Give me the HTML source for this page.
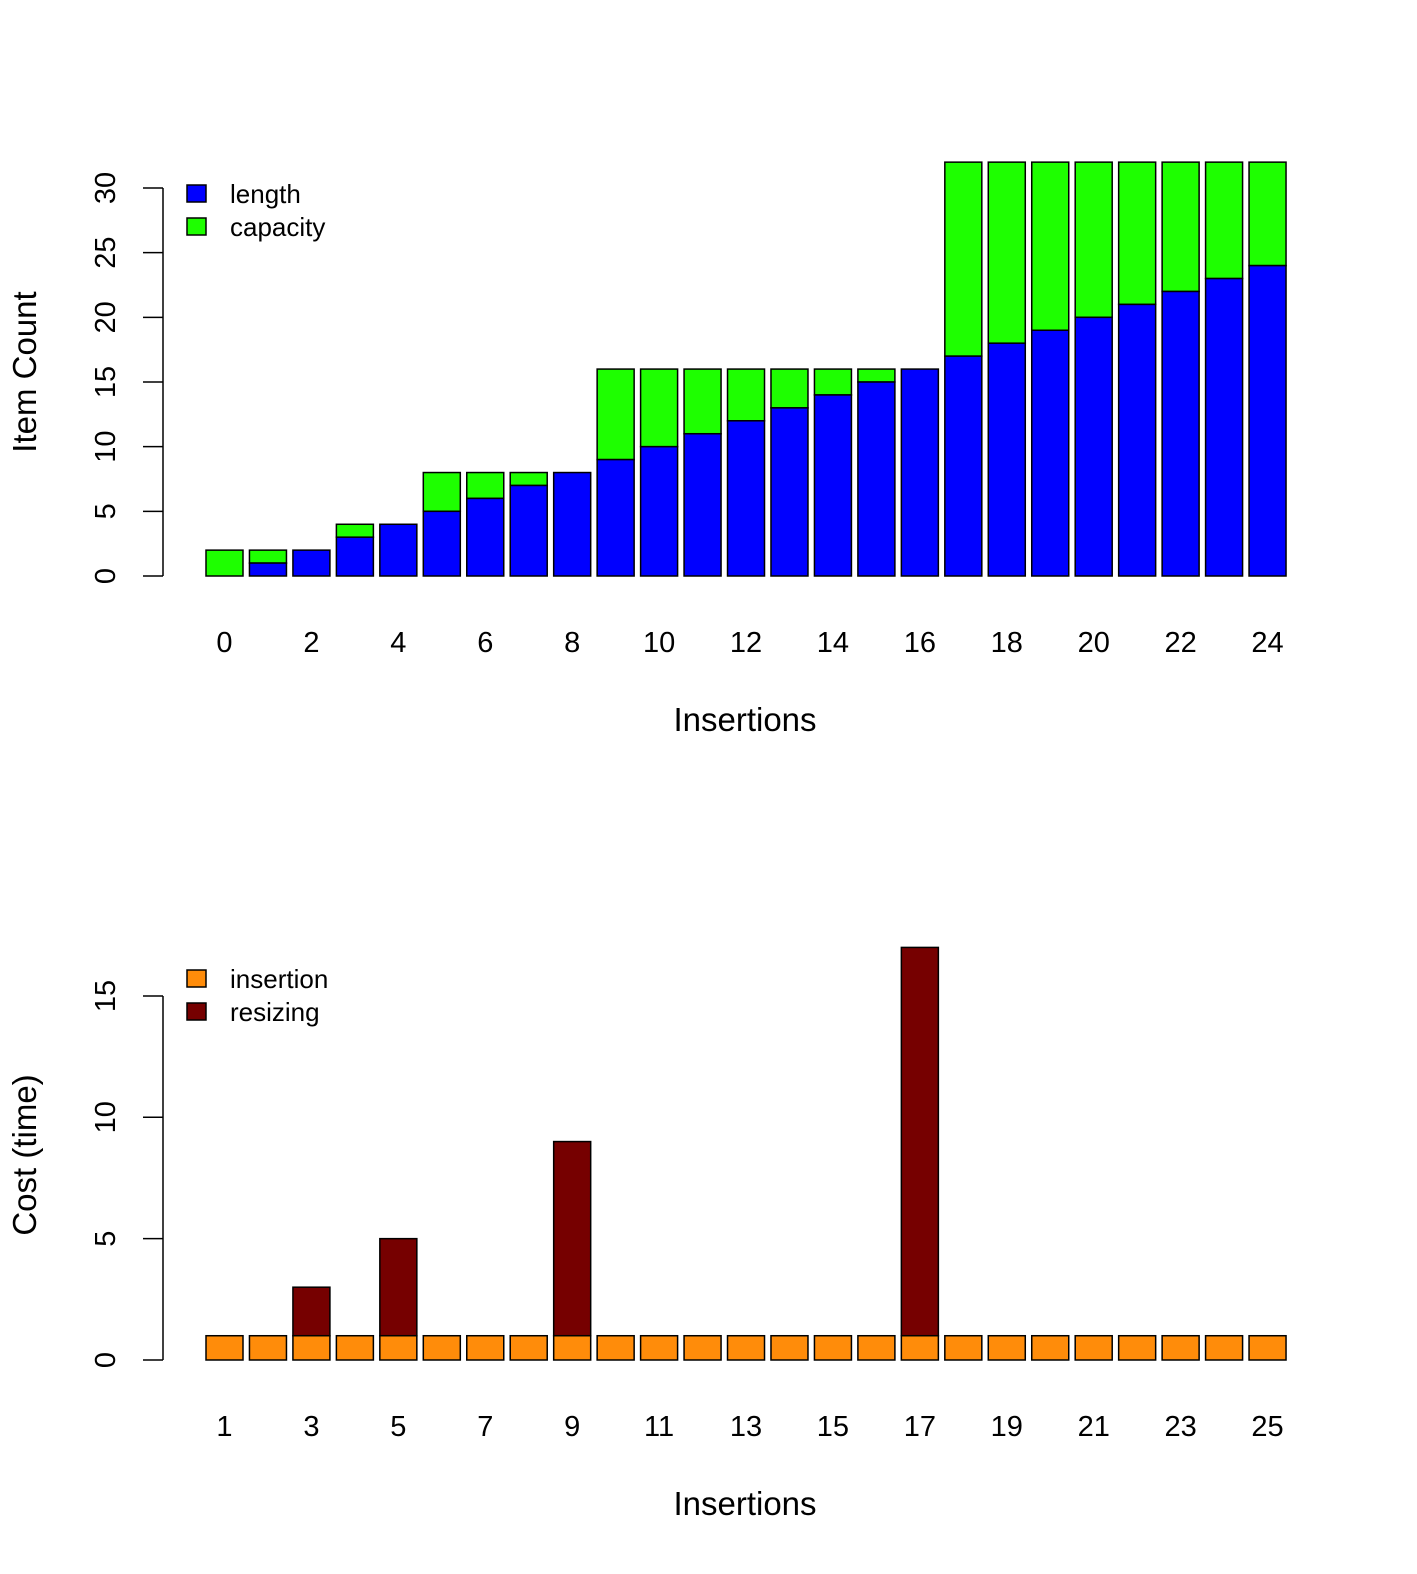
<!DOCTYPE html>
<html><head><meta charset="utf-8"><style>
html,body{margin:0;padding:0;background:#fff;}
svg{display:block;font-family:"Liberation Sans",Arial,sans-serif;}
</style></head><body>
<svg id="chart" width="1417" height="1574" xmlns="http://www.w3.org/2000/svg"></svg>
<script>
// Top chart data
const topCats = [0,1,2,3,4,5,6,7,8,9,10,11,12,13,14,15,16,17,18,19,20,21,22,23,24];
const topLength = [0,1,2,3,4,5,6,7,8,9,10,11,12,13,14,15,16,17,18,19,20,21,22,23,24];
const topCapacity = [2,2,2,4,4,8,8,8,8,16,16,16,16,16,16,16,16,32,32,32,32,32,32,32,32];
const topYTicks = [0,5,10,15,20,25,30];
// Bottom chart data
const botCats = [1,2,3,4,5,6,7,8,9,10,11,12,13,14,15,16,17,18,19,20,21,22,23,24,25];
const botInsertion = [1,1,1,1,1,1,1,1,1,1,1,1,1,1,1,1,1,1,1,1,1,1,1,1,1];
const botResizing = [0,0,2,0,4,0,0,0,8,0,0,0,0,0,0,0,16,0,0,0,0,0,0,0,0];
const botYTicks = [0,5,10,15];

const svg = document.getElementById('chart');
const NS = 'http://www.w3.org/2000/svg';
function mk(tag, attrs, parent){
  const e = document.createElementNS(NS, tag);
  for (const k in attrs) e.setAttribute(k, attrs[k]);
  (parent||svg).appendChild(e);
  return e;
}
function xScale(i){ return 206 + i*43.46; }
const BW = 37;

function drawPanel(cfg){
  const g = mk('g', {});
  
  
  const y = v => cfg.y0 - v*cfg.unit;
  cfg.cats.forEach((c,i)=>{
    const a = cfg.lower[i], b = cfg.upper[i];
    const x = xScale(i);
    if (b > 0) {
      const r2 = mk('rect', {x:x, y:y(a+b), width:BW, height:b*cfg.unit, fill:cfg.c2, stroke:'#000', 'stroke-width':1.5}, g);
      
      
    }
    if (a > 0) {
      const r1 = mk('rect', {x:x, y:y(a), width:BW, height:a*cfg.unit, fill:cfg.c1, stroke:'#000', 'stroke-width':1.5}, g);
      
      
    }
    if (i % 2 === 0) {
      const t = mk('text', {x:x+BW/2, y:cfg.y0+76, 'font-size':29, 'text-anchor':'middle'}, g);
      t.textContent = c;
      
      
    }
  });
  const ticks = cfg.ticks;
  const ax = mk('line', {x1:163, x2:163, y1:y(ticks[0]), y2:y(ticks[ticks.length-1]), stroke:'#000', 'stroke-width':1.5}, g);
  
  
  ticks.forEach(v=>{
    mk('line', {x1:143, x2:163, y1:y(v), y2:y(v), stroke:'#000', 'stroke-width':1.5}, g);
    const t = mk('text', {x:0, y:0, 'font-size':29, 'text-anchor':'middle', transform:'translate(115,'+y(v)+') rotate(-90)'}, g);
    t.textContent = v;
    
    
  });
  const xt = mk('text', {x:745, y:cfg.y0+155, 'font-size':33, 'text-anchor':'middle'}, g);
  xt.textContent = 'Insertions';
  
  
  const yt = mk('text', {x:0, y:0, 'font-size':33, 'text-anchor':'middle', transform:'translate(36,'+cfg.ylabY+') rotate(-90)'}, g);
  yt.textContent = cfg.ylab;
  
  
  [[cfg.n1,cfg.c1],[cfg.n2,cfg.c2]].forEach((e,k)=>{
    const ly = cfg.legY + k*33;
    const sq = mk('rect', {x:187, y:ly-9, width:19, height:17, fill:e[1], stroke:'#000', 'stroke-width':1.5}, g);
    
    
    const t = mk('text', {x:230, y:ly+9, 'font-size':26}, g);
    t.textContent = e[0];
    
    
  });
}

drawPanel({name:'item-count-chart', cats:topCats, lower:topLength,
  upper:topCapacity.map((c,i)=>c-topLength[i]), y0:576, unit:12.933,
  c1:'#0000FF', c2:'#1EFF00', n1:'length', n2:'capacity', ticks:topYTicks,
  ylab:'Item Count', ylabY:372, legY:194});
drawPanel({name:'cost-chart', cats:botCats, lower:botInsertion, upper:botResizing,
  y0:1360, unit:24.27, c1:'#FF8C0A', c2:'#760000', n1:'insertion', n2:'resizing',
  ticks:botYTicks, ylab:'Cost (time)', ylabY:1155, legY:979});
</script>
</body></html>
